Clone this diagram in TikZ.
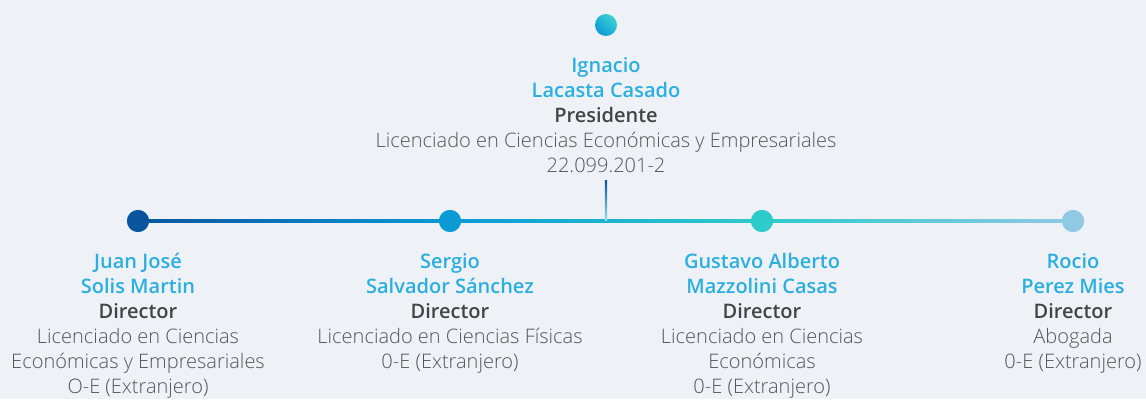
\documentclass[tikz,border=0pt]{standalone}
\usepackage{fontspec}
\newcommand\mybold{Open Sans Bold}
\IfFontExistsTF{Open Sans SemiBold}{\renewcommand\mybold{Open Sans SemiBold}}{%
  \IfFontExistsTF{Open Sans Semibold}{\renewcommand\mybold{Open Sans Semibold}}{%
    \IfFontExistsTF{OpenSans-SemiBold}{\renewcommand\mybold{OpenSans-SemiBold}}{}}}
\IfFontExistsTF{Open Sans Light}{%
  \setmainfont{Open Sans Light}[BoldFont={\mybold}]}{%
  \setmainfont{Open Sans}}
\usetikzlibrary{calc}
\definecolor{bg}{HTML}{EEF2F6}
\definecolor{namec}{HTML}{2BAEE0}
\definecolor{rolec}{HTML}{444444}
\definecolor{bodyc}{HTML}{555555}
\definecolor{c1}{HTML}{0A55A0}
\definecolor{c2}{HTML}{0B9AD6}
\definecolor{c3}{HTML}{2ECBCB}
\definecolor{c4}{HTML}{8FC9E3}
\definecolor{ctop}{HTML}{3FD2D2}
\newcommand\nm[1]{{\color{namec}\bfseries #1}}
\newcommand\rl[1]{{\color{rolec}\bfseries #1}}
\begin{document}
\begin{tikzpicture}[x=1pt,y=1pt,
  person/.style={anchor=north, align=center, inner sep=0pt, text=bodyc,
    font=\fontsize{20}{25}\selectfont},
  dot/.style={circle, minimum size=22pt, inner sep=0pt, fill=#1}]
\fill[bg] (0,0) rectangle (1146,399);
\useasboundingbox (0,0) rectangle (1146,399);
% top dot
\node[circle, minimum size=22pt, inner sep=0pt, top color=ctop, bottom color=c2, shading angle=-45] (top) at (606,374) {};
% president
\node[person] (p0) at (606,342) {\nm{Ignacio}\\ \nm{Lacasta Casado}\\ \rl{Presidente}\\ Licenciado en Ciencias Económicas y Empresariales\\ 22.099.201-2};
% dots
\node[dot=c1] (d1) at (138,178) {};
\node[dot=c2] (d2) at (450,178) {};
\node[dot=c3] (d3) at (762,178) {};
\node[dot=c4] (d4) at (1073,178) {};
\coordinate (j) at (606,178);
% line segments
\shade[left color=c1, right color=c2] ($(d1)+(0,-1.4)$) rectangle ($(d2)+(0,1.4)$);
\shade[left color=c2, right color=c3] ($(d2)+(0,-1.4)$) rectangle ($(d3)+(0,1.4)$);
\shade[left color=c3, right color=c4] ($(d3)+(0,-1.4)$) rectangle ($(d4)+(0,1.4)$);
\shade[top color=c1, bottom color=c3!50!white] ($(j)+(-1.2,40)$) rectangle ($(j)+(1.2,0)$);
% redraw dots on top
\node[dot=c1] at (d1) {};
\node[dot=c2] at (d2) {};
\node[dot=c3] at (d3) {};
\node[dot=c4] at (d4) {};
% directors
\node[person] (p1) at (138,146) {\nm{Juan José}\\ \nm{Solis Martin}\\ \rl{Director}\\ Licenciado en Ciencias\\ Económicas y Empresariales\\ O-E (Extranjero)};
\node[person] (p2) at (450,146) {\nm{Sergio}\\ \nm{Salvador Sánchez}\\ \rl{Director}\\ Licenciado en Ciencias Físicas\\ 0-E (Extranjero)};
\node[person] (p3) at (762,146) {\nm{Gustavo Alberto}\\ \nm{Mazzolini Casas}\\ \rl{Director}\\ Licenciado en Ciencias\\ Económicas\\ 0-E (Extranjero)};
\node[person] (p4) at (1073,146) {\nm{Rocio}\\ \nm{Perez Mies}\\ \rl{Director}\\ Abogada\\ 0-E (Extranjero)};
\end{tikzpicture}
\end{document}
